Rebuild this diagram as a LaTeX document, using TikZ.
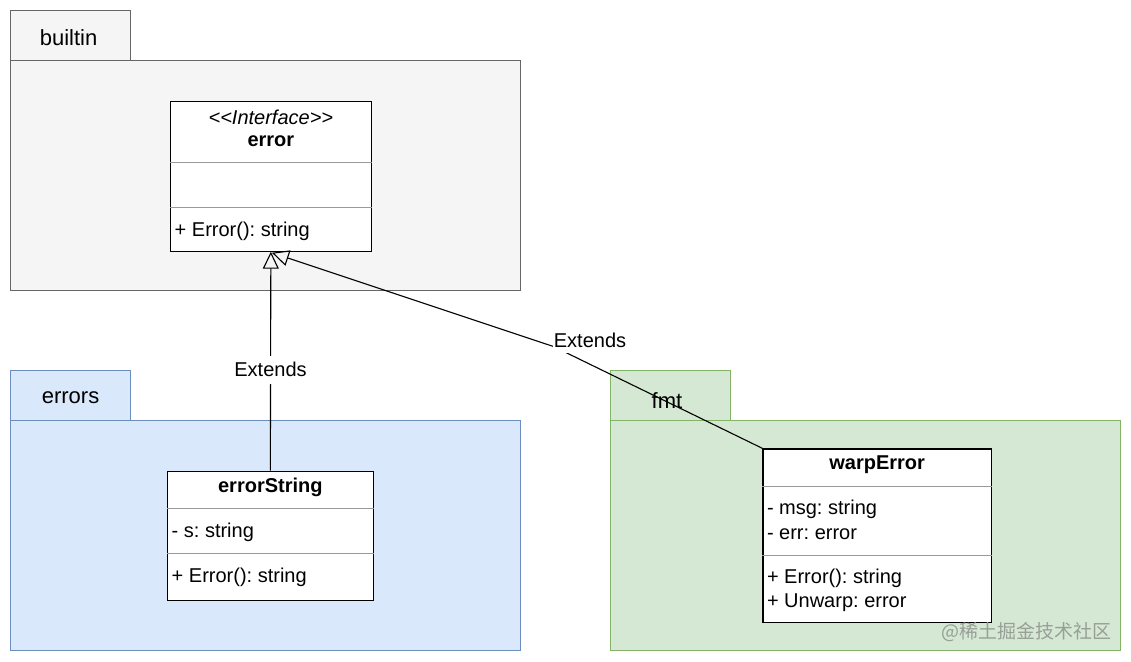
\documentclass[tikz,border=0pt]{standalone}
\usepackage{fontspec}
\setmainfont{Liberation Sans}
\newfontfamily\cjk{Noto Sans CJK SC}
\usetikzlibrary{arrows.meta,calc}
\definecolor{pkgGrayFill}{HTML}{F5F5F5}
\definecolor{pkgGrayLine}{HTML}{666666}
\definecolor{pkgBlueFill}{HTML}{DAE8FC}
\definecolor{pkgBlueLine}{HTML}{6C8EBF}
\definecolor{pkgGreenFill}{HTML}{D5E8D4}
\definecolor{pkgGreenLine}{HTML}{82B366}
\definecolor{divline}{HTML}{999999}
\definecolor{wmark}{HTML}{979F96}
\frenchspacing
\begin{document}
\begin{tikzpicture}[x=1pt,y=-1pt,
  font=\fontsize{20}{24}\selectfont,
  pkgshape/.style={draw, line width=1.1pt, anchor=north west, inner sep=0pt},
  tabtext/.style={font=\fontsize{22}{26}\selectfont},
  cls/.style={draw=black, fill=white, line width=1.2pt, anchor=north west, inner sep=0pt},
  div/.style={draw=divline, line width=1pt},
  title/.style={font=\fontsize{20}{24}\selectfont\bfseries, anchor=center, inner sep=0pt},
  member/.style={anchor=west, inner sep=0pt},
  ext/.style={draw=black, line width=1.1pt, -{Triangle[open, length=17pt, width=16pt]}},
  lbl/.style={fill=white, inner sep=0pt, minimum width=74, minimum height=24}
]
\useasboundingbox (0,0) rectangle (1131,661);

% ---------- packages ----------
\node[pkgshape, fill=pkgGrayFill, draw=pkgGrayLine, minimum width=510, minimum height=230] (builtinBody) at (10,60) {};
\node[pkgshape, fill=pkgGrayFill, draw=pkgGrayLine, minimum width=120, minimum height=50] (builtinTab) at (10,10) {};
\node[tabtext] (builtinName) at ($(builtinTab.center)+(-2,2)$) {builtin};

\node[pkgshape, fill=pkgBlueFill, draw=pkgBlueLine, minimum width=510, minimum height=230] (errorsBody) at (10,420) {};
\node[pkgshape, fill=pkgBlueFill, draw=pkgBlueLine, minimum width=120, minimum height=50] (errorsTab) at (10,370) {};
\node[tabtext] (errorsName) at ($(errorsTab.center)+(0,2)$) {errors};

\node[pkgshape, fill=pkgGreenFill, draw=pkgGreenLine, minimum width=510, minimum height=230] (fmtBody) at (610,420) {};
\node[pkgshape, fill=pkgGreenFill, draw=pkgGreenLine, minimum width=120, minimum height=50] (fmtTab) at (610,370) {};
\node[tabtext] (fmtName) at (667,400.5) {fmt};

% ---------- class: error ----------
\node[cls, minimum width=200.5, minimum height=150] (err) at (170,100.5) {};
\draw[div] ($(err.north west)+(0,61.5)$) -- ($(err.north east)+(0,61.5)$);
\draw[div] ($(err.north west)+(0,106.5)$) -- ($(err.north east)+(0,106.5)$);
\node[anchor=center, inner sep=0pt] (errStereo) at ($(err.north)+(0,16.5)$) {\itshape <{}<Interface>{}>};
\node[title] (errName) at ($(err.north)+(0,40.5)$) {error};
\node[member] (errM1) at ($(err.north west)+(4.5,130.5)$) {+ Error(): string};

% ---------- class: errorString ----------
\node[cls, minimum width=205.5, minimum height=129.5] (es) at (167,470.5) {};
\draw[div] ($(es.north west)+(0,38)$) -- ($(es.north east)+(0,38)$);
\draw[div] ($(es.north west)+(0,83)$) -- ($(es.north east)+(0,83)$);
\node[title] (esName) at ($(es.north)+(0,16.5)$) {errorString};
\node[member] (esA1) at ($(es.north west)+(4.5,61.5)$) {- s: string};
\node[member] (esM1) at ($(es.north west)+(4.5,107)$) {+ Error(): string};

% ---------- class: warpError ----------
\node[cls, minimum width=228.5, minimum height=173.5] (we) at (762.3,448.3) {};
\draw[div] ($(we.north west)+(0,38.4)$) -- ($(we.north east)+(0,38.4)$);
\draw[div] ($(we.north west)+(0,107.4)$) -- ($(we.north east)+(0,107.4)$);
\node[title] (weName) at ($(we.north)+(0,16.7)$) {warpError};
\node[member] (weA1) at ($(we.north west)+(4.5,61.5)$) {- msg: string};
\node[member] (weA2) at ($(we.north west)+(4.5,85.5)$) {- err: error};
\node[member] (weM1) at ($(we.north west)+(4.5,130)$) {+ Error(): string};
\node[member] (weM2) at ($(we.north west)+(4.5,154.2)$) {+ Unwarp: error};

% ---------- connectors ----------
\coordinate (bend) at (553.5,346.5);
\draw[ext] (es.north) -- (err.south);
\draw[ext] (we.north west) -- (bend) -- ($(err.south)+(1,1)$);
\node[lbl, minimum height=28] (extL1) at (270.5,369.5) {Extends};
\node[lbl] (extL2) at (590,340.5) {Extends};

% ---------- watermark ----------
\node[anchor=east, inner sep=0pt, text=wmark, font=\cjk\fontsize{19}{22}\selectfont] (wm) at (1112,632) {@稀土掘金技术社区};
\end{tikzpicture}
\end{document}
